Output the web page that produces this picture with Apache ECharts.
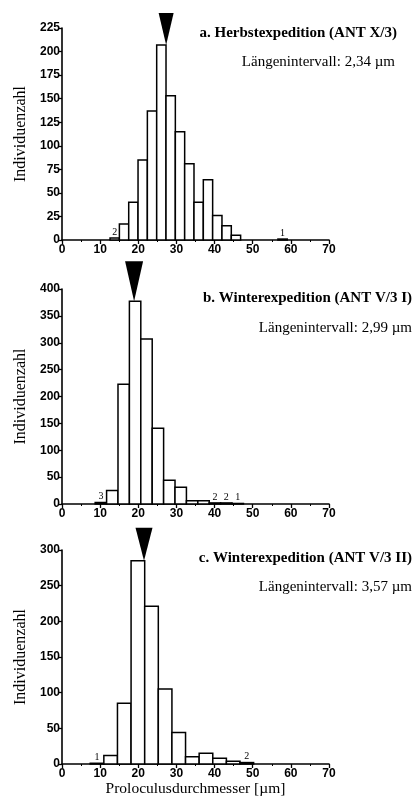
<!DOCTYPE html>
<html>
<head>
<meta charset="utf-8">
<script src="https://cdn.jsdelivr.net/npm/echarts@6/dist/echarts.min.js"></script>
<style>
  html, body { margin: 0; padding: 0; background: #fff; }
  #chart { width: 415px; height: 803px; }
</style>
</head>
<body>
<div id="chart"></div>
<script>
// Proloculus diameter histograms, three expeditions
const panelTitles = [
  'a. Herbstexpedition (ANT X/3)',
  'b. Winterexpedition (ANT V/3 I)',
  'c. Winterexpedition (ANT V/3 II)'
];
const intervalTexts = [
  'Längenintervall: 2,34 µm',
  'Längenintervall: 2,99 µm',
  'Längenintervall: 3,57 µm'
];

// class lower bounds and widths (µm) and counts per class
const binStartA = 12.6, binWidthA = 2.445;
const countsA = [2, 17, 40, 85, 137, 207, 153, 115, 81, 40, 64, 26, 15, 5, 0, 0, 0, 0, 1];
const binStartB = 8.7, binWidthB = 2.99;
const countsB = [3, 25, 223, 377, 307, 141, 44, 31, 6, 6, 2, 2, 1];
const binStartC = 7.4, binWidthC = 3.57;
const countsC = [1, 12, 85, 285, 221, 105, 44, 10, 15, 8, 4, 2];

// mean markers: [diameter, count]
const meanA = [27.3, 207];
const meanB = [18.9, 377];
const meanC = [21.5, 285];

const xTicks = [0, 10, 20, 30, 40, 50, 60, 70];
const yMaxes = [225, 400, 300];
const yIntervals = [25, 50, 50];

const xName = 'Proloculusdurchmesser [µm]';
const yName = 'Individuenzahl';

function toBins(start, width, counts) {
  return counts.map((c, i) => [start + i * width, start + (i + 1) * width, c]);
}
const binsList = [
  toBins(binStartA, binWidthA, countsA),
  toBins(binStartB, binWidthB, countsB),
  toBins(binStartC, binWidthC, countsC)
];
const means = [meanA, meanB, meanC];

const SERIF = '"Liberation Serif", "DejaVu Serif", serif';
const TICKFONT = '"Liberation Sans", "DejaVu Sans", sans-serif';

const grids = [
  { left: 62, right: 86, top: 28, height: 212 },
  { left: 62, right: 86, top: 289, height: 215 },
  { left: 62, right: 86, top: 550, height: 214 }
];
const arrowSizes = [[15, 32], [18, 40], [17, 33]];

function renderBar(params, api) {
  const x0 = api.value(0), x1 = api.value(1), v = api.value(2);
  if (v <= 0) return null;
  const pTop = api.coord([x0, v]);
  const pBot = api.coord([x1, 0]);
  const children = [{
    type: 'rect',
    shape: { x: pTop[0], y: pTop[1], width: pBot[0] - pTop[0], height: pBot[1] - pTop[1] },
    style: { fill: '#fff', stroke: '#000', lineWidth: 1.5 }
  }];
  if (v <= 3) {
    children.push({
      type: 'text',
      x: (pTop[0] + pBot[0]) / 2,
      y: pTop[1] - 1,
      style: { text: String(v), font: '10px ' + SERIF, fill: '#000', align: 'center', verticalAlign: 'bottom' }
    });
  }
  return { type: 'group', children: children };
}

function makeArrow(size) {
  return function (params, api) {
    const p = api.coord([api.value(0), api.value(1)]);
    const w = size[0], h = size[1];
    return {
      type: 'polygon',
      shape: { points: [[p[0] - w / 2, p[1] - h], [p[0] + w / 2, p[1] - h], [p[0], p[1]]] },
      style: { fill: '#000' }
    };
  };
}

const xAxes = grids.map((g, i) => ({
  type: 'value', gridIndex: i, min: 0, max: 70, interval: 10,
  axisLine: { show: true, lineStyle: { color: '#000', width: 1.6 } },
  axisTick: { show: true, length: 4, lineStyle: { color: '#000', width: 1.3 } },
  minorTick: { show: true, splitNumber: 2, length: 2, lineStyle: { color: '#000', width: 1 } },
  splitLine: { show: false },
  axisLabel: { color: '#000', fontSize: 12, fontWeight: 'bold', fontFamily: TICKFONT, margin: 4,
    formatter: v => (xTicks.indexOf(v) >= 0 ? String(v) : '') },
  name: i === 2 ? xName : '',
  nameLocation: 'middle', nameGap: 11,
  nameTextStyle: { color: '#000', fontSize: 15.5, fontFamily: SERIF, verticalAlign: 'top' }
}));

const yAxes = grids.map((g, i) => ({
  type: 'value', gridIndex: i, min: 0, max: yMaxes[i], interval: yIntervals[i],
  axisLine: { show: true, lineStyle: { color: '#000', width: 1.6 } },
  axisTick: { show: true, length: 3, lineStyle: { color: '#000', width: 1.3 } },
  splitLine: { show: false },
  axisLabel: { color: '#000', fontSize: 12, fontWeight: 'bold', fontFamily: TICKFONT, margin: 2 },
  name: yName, nameLocation: 'middle', nameRotate: 90, nameGap: 33,
  nameTextStyle: { color: '#000', fontSize: 16, fontFamily: SERIF }
}));

const series = [];
binsList.forEach((bins, i) => {
  series.push({
    type: 'custom', xAxisIndex: i, yAxisIndex: i,
    renderItem: renderBar, data: bins, silent: true,
    encode: { x: [0, 1], y: 2 }
  });
  series.push({
    type: 'custom', xAxisIndex: i, yAxisIndex: i,
    renderItem: makeArrow(arrowSizes[i]), data: [means[i]], silent: true, clip: false,
    encode: { x: 0, y: 1 }, z: 5
  });
});

const textPos = [
  { title: [397, 33], sub: [395, 62] },
  { title: [412, 298], sub: [412, 328] },
  { title: [412, 558], sub: [412, 587] }
];
const graphics = [];
textPos.forEach((p, i) => {
  graphics.push({
    type: 'text', x: p.title[0], y: p.title[1],
    style: { text: panelTitles[i], font: 'bold 15px ' + SERIF, fill: '#000', align: 'right', verticalAlign: 'middle' }
  });
  graphics.push({
    type: 'text', x: p.sub[0], y: p.sub[1],
    style: { text: intervalTexts[i], font: '15px ' + SERIF, fill: '#000', align: 'right', verticalAlign: 'middle' }
  });
});

const chart = echarts.init(document.getElementById('chart'), null, { renderer: 'canvas' });
chart.setOption({
  animation: false,
  backgroundColor: '#fff',
  grid: grids,
  xAxis: xAxes,
  yAxis: yAxes,
  series: series,
  graphic: graphics
});
</script>
</body>
</html>
